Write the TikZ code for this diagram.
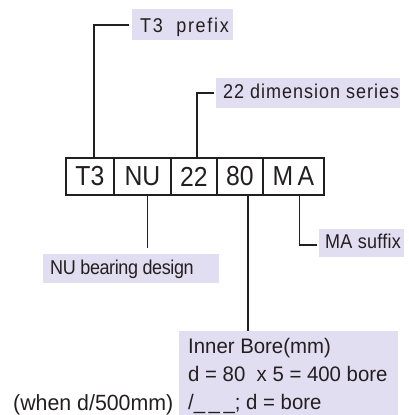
\documentclass[tikz,border=0pt]{standalone}
\usepackage{fontspec}
\setmainfont{Liberation Sans}[FakeStretch=0.9]
\newfontfamily\borefont{Liberation Sans}[FakeStretch=0.97]
\definecolor{labelfill}{RGB}{224,222,240}
\definecolor{ink}{RGB}{35,31,32}
\tikzset{
  cell/.style={draw=ink, line width=1.8pt, anchor=north west, inner sep=0pt,
    minimum height=37pt, text=ink, font=\fontsize{27.5}{28}\selectfont},
  tagbox/.style={fill=labelfill, anchor=north west, inner sep=0pt},
  tagtext/.style={anchor=base west, inner sep=0pt, text=ink,
    font=\fontsize{20}{22}\selectfont},
  spaced/.style={font=\fontsize{20}{22}\selectfont\addfontfeatures{LetterSpace=#1}},
  boretext/.style={anchor=base west, inner sep=0pt, text=ink,
    font=\borefont\fontsize{21}{24}\selectfont},
  leader/.style={draw=ink, line width=1.8pt},
}
\begin{document}
\begin{tikzpicture}[x=1pt,y=-1pt]
\useasboundingbox (0,0) rectangle (409,415);
\clip (0,0) rectangle (409,415);

% designation code cells
\node[cell, minimum width=48pt] (t3) at (65,157) {T3};
\node[cell, minimum width=57pt] (nu) at (113,157) {NU};
\node[cell, minimum width=46pt] (s22) at (170,157) {22};
\node[cell, minimum width=46pt] (s80) at (216,157) {80};
\node[cell, minimum width=61pt] (ma) at (262,157) {M\,A};

% explanatory tags: shaded boxes
\node[tagbox, minimum width=101pt, minimum height=31pt] (tp) at (132,9) {};
\node[tagbox, minimum width=184pt, minimum height=30pt] (dim) at (216,78) {};
\node[tagbox, minimum width=176pt, minimum height=29pt] (nud) at (43,254) {};
\node[tagbox, minimum width=85pt, minimum height=28pt] (msuf) at (319,229) {};
\node[tagbox, minimum width=219pt, minimum height=100pt] (bore) at (179,331) {};

% explanatory tags: texts
\node[tagtext, spaced=8.5] (tpt) at (140,32) {T3\ \ prefix};
\node[tagtext, spaced=5] (dimt) at (223,98.5) {22 dimension series};
\node[tagtext, spaced=-2] (nudt) at (50,274.5) {NU bearing design};
\node[tagtext, spaced=1.5] (msuft) at (325,248.5) {MA suffix};
\node[boretext] (b1) at (188,353) {Inner Bore(mm)};
\node[boretext] (b2) at (188,381) {d = 80\ \ x 5 = 400 bore};
\node[boretext] (b3) at (188,409) {/\_\,\_\,\_; d = bore};
\node[boretext, font=\borefont\fontsize{22}{24}\selectfont] (when) at (13,410) {(when d/500mm)};

% leader lines
\draw[leader] ([xshift=-3pt]tp.west) -| ([xshift=4pt]t3.north);
\draw[leader] ([xshift=-2pt]dim.west) -| ([xshift=3pt]s22.north);
\draw[leader] ([xshift=5pt]nu.south) -- ([xshift=5pt]nu.south |- 0,248);
\draw[leader] ([xshift=8pt]s80.south) -- ([xshift=8pt]s80.south |- bore.north);
\draw[leader] ([xshift=6pt]ma.south) |- ([xshift=-2pt,yshift=-2pt]msuf.west);
\end{tikzpicture}
\end{document}
